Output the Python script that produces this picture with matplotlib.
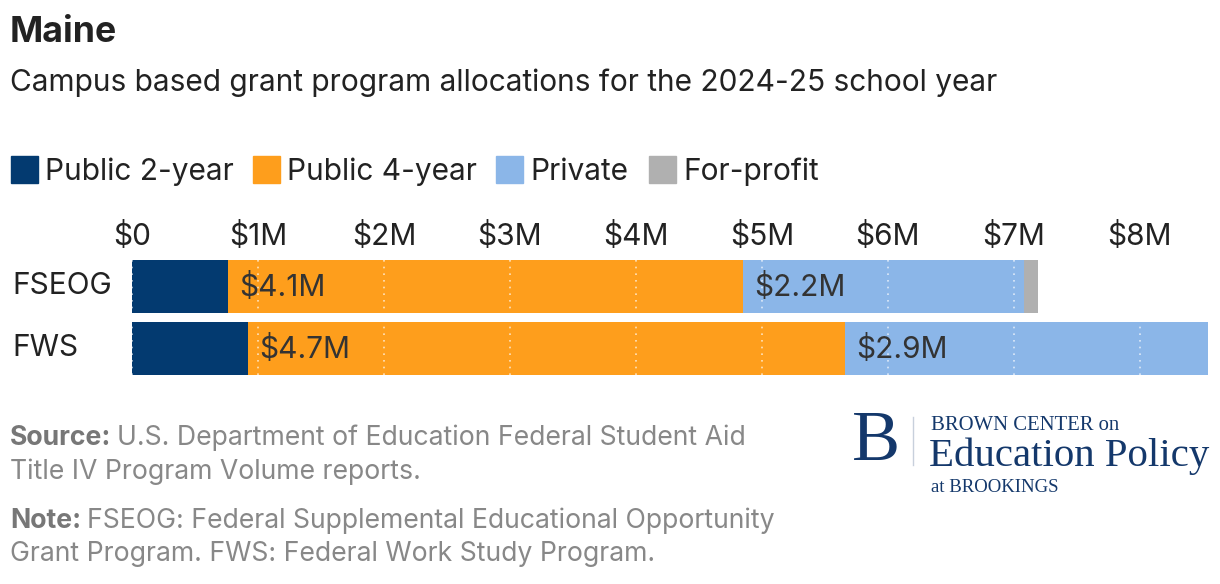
import matplotlib
matplotlib.use("Agg")
import matplotlib.pyplot as plt
from matplotlib.patches import Rectangle
from matplotlib.transforms import blended_transform_factory

plt.rcParams['font.family'] = ['Inter', 'DejaVu Sans']

# data, in $M
programs = ["FSEOG", "FWS"]
sectors = ["Public 2-year", "Public 4-year", "Private", "For-profit"]
public_2yr = [0.76, 0.92]
public_4yr = [4.09, 4.74]
private = [2.23, 2.88]
for_profit = [0.11, 0.0]
tick_values = [0, 1, 2, 3, 4, 5, 6, 7, 8]
tick_labels = ["$0", "$1M", "$2M", "$3M", "$4M", "$5M", "$6M", "$7M", "$8M"]

colors = ["#033a70", "#fe9e1c", "#8bb6e8", "#b0b0b0"]
series = [public_2yr, public_4yr, private, for_profit]
labelled = [False, True, True, False]

W, H = 1220, 584
FS = 21.5
fig = plt.figure(figsize=(W / 100, H / 100), dpi=100)

def fx(px):
    return px / W

def fy(py):
    return 1 - py / H

# title / subtitle
fig.text(fx(10), fy(33), "Maine", fontsize=25.7, fontweight="bold", color="#222222", va="center")
fig.text(fx(10), fy(83), "Campus based grant program allocations for the 2024-25 school year",
         fontsize=FS, color="#222222", va="center")

# legend
leg_sq = [10.5, 252.5, 496, 648.5]
for i, name in enumerate(sectors):
    fig.patches.append(Rectangle((fx(leg_sq[i]), fy(183)), fx(27), 27 / H,
                                 transform=fig.transFigure, color=colors[i]))
    fig.text(fx(leg_sq[i] + 34.5), fy(172), name, fontsize=FS, color="#222222", va="center")

# bars
ax = fig.add_axes([fx(132), fy(375), fx(1208 - 132), (375 - 260) / H])
h = 53 / 62
y = list(range(len(programs)))
left = [0.0] * len(programs)
for s, vals in enumerate(series):
    ax.barh(y, vals, left=left, height=h, color=colors[s], zorder=1)
    if labelled[s]:
        for i, v in enumerate(vals):
            ax.annotate("$%.1fM" % v, (left[i], y[i]), xytext=(8, -1),
                        textcoords="offset points", va="center", ha="left",
                        fontsize=FS, color="#333333", zorder=3)
    left = [l + v for l, v in zip(left, vals)]

ax.set_xlim(0, max(left))
ax.set_ylim(len(programs) - 1 + h / 2, -h / 2)
ax.set_xticks(tick_values)
ax.set_xticklabels(tick_labels)
ax.xaxis.tick_top()
ax.tick_params(axis="x", length=0, pad=6.5, labelsize=FS, labelcolor="#222222")
ax.set_yticks([])
for sp in ax.spines.values():
    sp.set_visible(False)
ax.grid(axis="x", color="white", alpha=0.7, linestyle=(0, (1, 3)), linewidth=1.2, zorder=2)
ax.set_axisbelow(False)

trans = blended_transform_factory(fig.transFigure, ax.transData)
for i, p in enumerate(programs):
    ax.text(fx(12), y[i], p, transform=trans, fontsize=FS, color="#222222", va="center", ha="left")

# footnotes
fig.canvas.draw()
renderer = fig.canvas.get_renderer()
FN = 19.2

def two_part(py, bold, rest):
    t = fig.text(fx(10), fy(py), bold, fontsize=FN, fontweight="bold", color="#777777", va="center")
    bb = t.get_window_extent(renderer)
    fig.text(bb.x1 / W + fx(6), fy(py), rest, fontsize=FN, color="#888888", va="center")

two_part(438, "Source:", "U.S. Department of Education Federal Student Aid")
fig.text(fx(10), fy(472), "Title IV Program Volume reports.", fontsize=FN, color="#888888", va="center")
two_part(521, "Note:", "FSEOG: Federal Supplemental Educational Opportunity")
fig.text(fx(10), fy(554), "Grant Program. FWS: Federal Work Study Program.", fontsize=FN,
         color="#888888", va="center")

# logo
navy = "#14386b"
serif = ["Liberation Serif", "DejaVu Serif"]
fig.text(fx(876), fy(443), "B", family=serif, fontsize=52, color=navy, ha="center", va="center")
fig.lines.append(plt.Line2D([fx(913), fx(913)], [fy(417), fy(465)], transform=fig.transFigure,
                            color="#c8d0dc", linewidth=1))
fig.text(fx(931), fy(425), "BROWN CENTER on", family=serif, fontsize=14.9, color=navy, va="center")
fig.text(fx(929), fy(456), "Education Policy", family=serif, fontsize=29.4, color=navy, va="center")
fig.text(fx(931), fy(488), "at BROOKINGS", family=serif, fontsize=13.5, color=navy, va="center")

fig.savefig("out.png", dpi=100, facecolor="white")
